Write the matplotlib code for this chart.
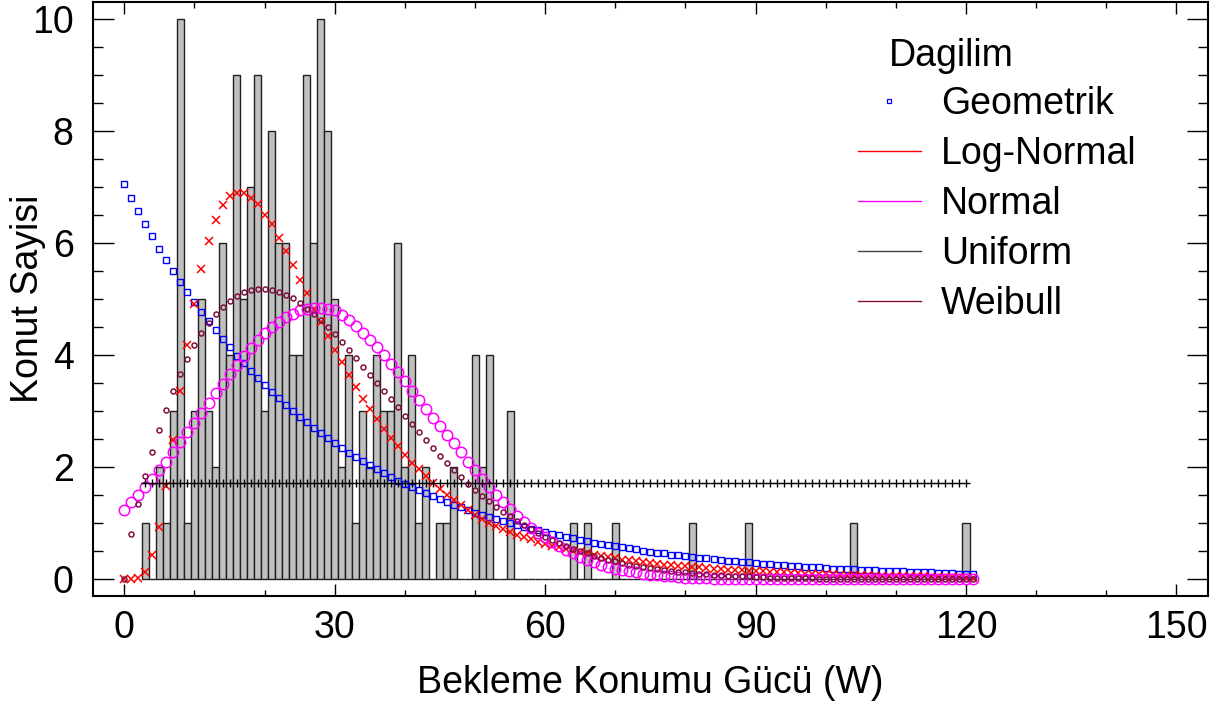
import numpy as np
import matplotlib
matplotlib.use("Agg")
import matplotlib.pyplot as plt
from matplotlib.lines import Line2D
from matplotlib.ticker import MultipleLocator

plt.rcParams["font.family"] = ["Liberation Sans", "DejaVu Sans"]

# histogram of measured standby power, one bin per watt (3..121 W)
bar_x = list(range(3, 122))
bar_counts = [
    1, 0, 2, 1, 3, 10, 1, 3, 5, 3,
    2, 6, 4, 9, 5, 7, 9, 3, 8, 6,
    6, 4, 4, 9, 6, 10, 8, 5, 2, 4,
    1, 3, 2, 4, 3, 3, 6, 2, 4, 1,
    2, 0, 1, 1, 2, 0, 0, 4, 2, 4,
    0, 0, 3, 0, 0, 0, 0, 0, 0, 0,
    0, 1, 0, 1, 0, 0, 0, 1, 0, 0,
    0, 0, 0, 0, 0, 0, 0, 0, 1, 0,
    0, 0, 0, 0, 0, 0, 1, 0, 0, 0,
    0, 0, 0, 0, 0, 0, 0, 0, 0, 0,
    0, 1, 0, 0, 0, 0, 0, 0, 0, 0,
    0, 0, 0, 0, 0, 0, 0, 1, 0,
]

# fitted distributions evaluated at 0..121 W (expected counts)
fit_x = list(range(0, 122))
geometrik = [
    7.05, 6.80, 6.57, 6.34, 6.12, 5.90, 5.69, 5.50, 5.30, 5.12,
    4.94, 4.77, 4.60, 4.44, 4.29, 4.14, 3.99, 3.85, 3.72, 3.59,
    3.46, 3.34, 3.23, 3.11, 3.01, 2.90, 2.80, 2.70, 2.61, 2.52,
    2.43, 2.34, 2.26, 2.18, 2.11, 2.03, 1.96, 1.89, 1.83, 1.76,
    1.70, 1.64, 1.59, 1.53, 1.48, 1.43, 1.38, 1.33, 1.28, 1.24,
    1.19, 1.15, 1.11, 1.07, 1.04, 1.00, 0.97, 0.93, 0.90, 0.87,
    0.84, 0.81, 0.78, 0.75, 0.73, 0.70, 0.68, 0.65, 0.63, 0.61,
    0.59, 0.57, 0.55, 0.53, 0.51, 0.49, 0.47, 0.46, 0.44, 0.43,
    0.41, 0.40, 0.38, 0.37, 0.36, 0.34, 0.33, 0.32, 0.31, 0.30,
    0.29, 0.28, 0.27, 0.26, 0.25, 0.24, 0.23, 0.22, 0.22, 0.21,
    0.20, 0.19, 0.19, 0.18, 0.18, 0.17, 0.16, 0.16, 0.15, 0.15,
    0.14, 0.14, 0.13, 0.13, 0.12, 0.12, 0.11, 0.11, 0.11, 0.10,
    0.10, 0.10,
]
log_normal = [
    0.00, 0.00, 0.03, 0.12, 0.43, 0.94, 1.67, 2.49, 3.36, 4.18,
    4.91, 5.53, 6.04, 6.41, 6.67, 6.83, 6.90, 6.90, 6.81, 6.69,
    6.50, 6.33, 6.09, 5.85, 5.61, 5.34, 5.10, 4.83, 4.59, 4.34,
    4.09, 3.87, 3.65, 3.43, 3.22, 3.04, 2.86, 2.68, 2.52, 2.37,
    2.22, 2.08, 1.96, 1.84, 1.71, 1.61, 1.50, 1.41, 1.33, 1.23,
    1.15, 1.08, 1.01, 0.95, 0.89, 0.84, 0.79, 0.75, 0.71, 0.67,
    0.63, 0.60, 0.57, 0.54, 0.51, 0.48, 0.46, 0.43, 0.41, 0.39,
    0.37, 0.35, 0.34, 0.32, 0.30, 0.29, 0.28, 0.26, 0.25, 0.24,
    0.23, 0.22, 0.21, 0.20, 0.19, 0.18, 0.17, 0.16, 0.16, 0.15,
    0.14, 0.14, 0.13, 0.12, 0.12, 0.11, 0.11, 0.10, 0.10, 0.09,
    0.09, 0.09, 0.08, 0.08, 0.07, 0.07, 0.07, 0.06, 0.06, 0.06,
    0.06, 0.05, 0.05, 0.05, 0.05, 0.04, 0.04, 0.04, 0.04, 0.04,
    0.03, 0.03,
]
normal = [
    1.24, 1.37, 1.50, 1.65, 1.79, 1.94, 2.10, 2.27, 2.45, 2.62,
    2.79, 2.97, 3.15, 3.32, 3.49, 3.66, 3.83, 3.98, 4.13, 4.26,
    4.39, 4.50, 4.59, 4.67, 4.74, 4.80, 4.83, 4.84, 4.84, 4.83,
    4.80, 4.72, 4.63, 4.52, 4.40, 4.27, 4.14, 4.00, 3.84, 3.69,
    3.53, 3.36, 3.20, 3.04, 2.88, 2.73, 2.58, 2.43, 2.27, 2.10,
    1.94, 1.79, 1.65, 1.51, 1.38, 1.25, 1.13, 1.02, 0.92, 0.83,
    0.75, 0.67, 0.59, 0.52, 0.46, 0.40, 0.35, 0.30, 0.26, 0.22,
    0.19, 0.16, 0.14, 0.12, 0.10, 0.08, 0.07, 0.06, 0.05, 0.04,
    0.03, 0.03, 0.02, 0.02, 0.01, 0.01, 0.01, 0.01, 0.00, 0.00,
    0.00, 0.00, 0.00, 0.00, 0.00, 0.00, 0.00, 0.00, 0.00, 0.00,
    0.00, 0.00, 0.00, 0.00, 0.00, 0.00, 0.00, 0.00, 0.00, 0.00,
    0.00, 0.00, 0.00, 0.00, 0.00, 0.00, 0.00, 0.00, 0.00, 0.00,
    0.00, 0.00,
]
weibull = [
    0.00, 0.80, 1.35, 1.84, 2.27, 2.66, 3.02, 3.35, 3.67, 3.93,
    4.18, 4.39, 4.57, 4.73, 4.85, 4.97, 5.05, 5.12, 5.16, 5.18,
    5.18, 5.16, 5.12, 5.07, 5.01, 4.93, 4.83, 4.73, 4.62, 4.50,
    4.37, 4.23, 4.09, 3.94, 3.79, 3.65, 3.50, 3.36, 3.21, 3.07,
    2.92, 2.77, 2.62, 2.48, 2.34, 2.20, 2.07, 1.94, 1.82, 1.70,
    1.59, 1.49, 1.39, 1.29, 1.20, 1.12, 1.04, 0.96, 0.89, 0.82,
    0.76, 0.70, 0.64, 0.59, 0.54, 0.50, 0.46, 0.42, 0.38, 0.35,
    0.32, 0.29, 0.26, 0.24, 0.22, 0.20, 0.18, 0.16, 0.15, 0.13,
    0.12, 0.11, 0.10, 0.09, 0.08, 0.07, 0.06, 0.06, 0.05, 0.05,
    0.04, 0.04, 0.03, 0.03, 0.03, 0.02, 0.02, 0.02, 0.02, 0.01,
    0.01, 0.01, 0.01, 0.01, 0.01, 0.01, 0.00, 0.00, 0.00, 0.00,
    0.00, 0.00, 0.00, 0.00, 0.00, 0.00, 0.00, 0.00, 0.00, 0.00,
    0.00, 0.00,
]
# uniform fit over 3..120 W
unif_x = list(range(3, 121))
unif_y = [1.72] * len(unif_x)

WEIB_COLOR = "#80103f"

fig = plt.figure(figsize=(12.26, 7.04), dpi=100)
ax = fig.add_axes([0.0759, 0.1534, 0.9094, 0.8438])

ax.bar(bar_x, bar_counts, width=1.0, color="#c0c0c0", edgecolor="#202020",
       linewidth=1.0, zorder=1)

ax.plot(fit_x, geometrik, ls="none", marker="s", ms=5.0, mfc="none",
        mec="#0000ff", mew=1.0, zorder=3)
ax.plot(fit_x, log_normal, ls="none", marker="x", ms=6.0, mec="#ff0000",
        mew=1.1, zorder=3)
ax.plot(fit_x, normal, ls="none", marker="o", ms=7.5, mfc="none",
        mec="#ff00ff", mew=1.1, zorder=3)
ax.plot(unif_x, unif_y, ls="none", marker="+", ms=6.0, mec="black",
        mew=1.0, zorder=3)
ax.plot(fit_x, weibull, ls="none", marker="o", ms=3.6, mfc="none",
        mec=WEIB_COLOR, mew=1.1, zorder=3)

ax.set_xlim(-4.46, 154.5)
ax.set_ylim(-0.30, 10.30)
ax.xaxis.set_major_locator(MultipleLocator(30))
ax.xaxis.set_minor_locator(MultipleLocator(10))
ax.yaxis.set_major_locator(MultipleLocator(2))
ax.yaxis.set_minor_locator(MultipleLocator(0.5))
ax.tick_params(axis="both", which="both", direction="in", top=True,
               right=True, width=1.0, colors="black", labelsize=27)
ax.tick_params(axis="x", which="major", length=8.6, pad=10)
ax.tick_params(axis="x", which="minor", length=4.3)
ax.tick_params(axis="y", which="major", length=15, pad=14)
ax.tick_params(axis="y", which="minor", length=7.5)
for sp in ax.spines.values():
    sp.set_linewidth(1.5)

ax.set_xlabel("Bekleme Konumu Gücü (W)", fontsize=27, labelpad=14)
ax.set_ylabel("Konut Sayisi", fontsize=27)
ax.yaxis.set_label_coords(-0.042, 0.5)

handles = [
    Line2D([], [], ls="none", marker="s", ms=3.5, mfc="none", mec="#0000ff", mew=0.9),
    Line2D([], [], color="#ff0000", lw=1.0),
    Line2D([], [], color="#ff00ff", lw=1.0),
    Line2D([], [], color="#404040", lw=1.0),
    Line2D([], [], color=WEIB_COLOR, lw=1.0),
]
labels = ["Geometrik", "Log-Normal", "Normal", "Uniform", "Weibull"]
ax.legend(handles, labels, loc="upper left", bbox_to_anchor=(0.686, 0.858),
          frameon=False, fontsize=27, handlelength=1.67, handletextpad=0.55,
          labelspacing=0.37, borderpad=0, borderaxespad=0)
ax.text(0.714, 0.909, "Dagilim", transform=ax.transAxes, fontsize=27,
        ha="left", va="center")

fig.savefig("out.png", dpi=100)
